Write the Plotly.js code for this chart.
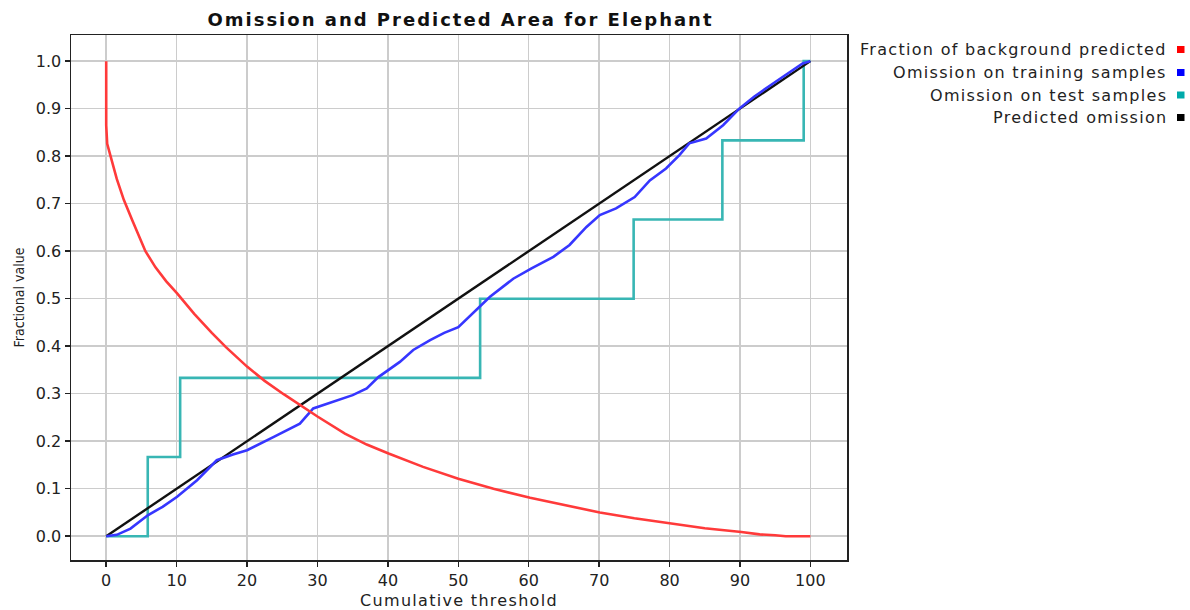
<!DOCTYPE html>
<html>
<head>
<meta charset="utf-8">
<script src="https://cdn.plot.ly/plotly-3.0.1.min.js"></script>
<style>
html,body{margin:0;padding:0;background:#fff;}
#chart{width:1190px;height:610px;}
text.annotation-text{letter-spacing:1.3px;}
text.gtitle{letter-spacing:2px;}
text.xtitle{letter-spacing:1.3px;}
</style>
</head>
<body>
<div id="chart"></div>
<script>
// ---- Data ----
const chartTitle = "Omission and Predicted Area for Elephant";
const xTitle = "Cumulative threshold";
const yTitle = "Fractional value";

const seriesNames = [
  "Fraction of background predicted",
  "Omission on training samples",
  "Omission on test samples",
  "Predicted omission"
];
const seriesColors = ["#ff0000", "#0000ff", "#00aaaa", "#000000"];
const lineColors = ["#ff3a3a", "#3636ff", "#38b6b4", "#111111"];

// Fraction of background predicted
const bgX = [0, 0, 0.14, 0.5, 1.0, 1.5, 2.0, 2.5, 3.7, 5.57, 7.0, 8.5, 10.07, 12.5, 15, 17, 20, 22.5, 25.2, 27.5, 30, 33.9, 37, 40.1, 45, 50, 55, 60.2, 65, 70.1, 75, 80, 85, 90.2, 92.8, 95, 96.5, 100];
const bgY = [1.0, 0.865, 0.826, 0.806, 0.778, 0.752, 0.73, 0.708, 0.665, 0.6, 0.566, 0.537, 0.511, 0.468, 0.428, 0.398, 0.357, 0.327, 0.299, 0.276, 0.252, 0.216, 0.193, 0.174, 0.146, 0.121, 0.100, 0.081, 0.066, 0.050, 0.038, 0.027, 0.017, 0.009, 0.004, 0.002, 0.0, 0.0];

// Omission on training samples
const trainX = [0, 1.5, 3.45, 5.9, 8, 10.07, 12.9, 15.7, 18, 20, 23.8, 27.5, 29.4, 32.3, 35, 37, 38.65, 41.7, 43.6, 46, 48, 50, 52.6, 54.5, 57.8, 60.4, 63.5, 65.8, 68.2, 70.1, 72.4, 75.05, 77.2, 79.5, 81.4, 82.8, 85.2, 87.6, 89.9, 92, 94.7, 97, 98.9, 100];
const trainY = [0, 0.003, 0.016, 0.044, 0.062, 0.083, 0.118, 0.16, 0.172, 0.181, 0.209, 0.237, 0.269, 0.283, 0.297, 0.311, 0.335, 0.367, 0.392, 0.413, 0.428, 0.44, 0.476, 0.504, 0.542, 0.564, 0.588, 0.613, 0.651, 0.676, 0.69, 0.714, 0.749, 0.774, 0.802, 0.827, 0.837, 0.865, 0.9, 0.925, 0.953, 0.975, 0.995, 1.0];

// Omission on test samples (step function)
const testX = [0, 5.9, 10.5, 53.1, 74.9, 87.5, 99.05, 100];
const testY = [0, 0.1667, 0.3333, 0.5, 0.6667, 0.8333, 1.0, 1.0];

// Predicted omission
const predX = [0, 100];
const predY = [0, 1];

const xTicks = [0, 10, 20, 30, 40, 50, 60, 70, 80, 90, 100];
const yTicks = [0.0, 0.1, 0.2, 0.3, 0.4, 0.5, 0.6, 0.7, 0.8, 0.9, 1.0];
const xRange = [-5, 105.2];
const yRange = [-0.05, 1.055];

// ---- Layout geometry (pixels) ----
const W = 1190, H = 610;
const plotL = 71, plotR = 847, plotT = 35, plotB = 560;
const fontMain = "DejaVu Sans, Verdana, sans-serif";

function px2paperX(px){ return (px - plotL) / (plotR - plotL); }
function px2paperY(py){ return (plotB - py) / (plotB - plotT); }

const traces = [
  {x: testX, y: testY, mode: "lines", line: {color: lineColors[2], width: 2.6, shape: "hv"}, name: seriesNames[2], showlegend: false, hoverinfo: "skip"},
  {x: predX, y: predY, mode: "lines", line: {color: lineColors[3], width: 2.4}, name: seriesNames[3], showlegend: false, hoverinfo: "skip"},
  {x: trainX, y: trainY, mode: "lines", line: {color: lineColors[1], width: 2.6}, name: seriesNames[1], showlegend: false, hoverinfo: "skip"},
  {x: bgX, y: bgY, mode: "lines", line: {color: lineColors[0], width: 2.6}, name: seriesNames[0], showlegend: false, hoverinfo: "skip"}
];

// Custom legend: right-aligned text with square swatch on the right
const legendRowsY = [49.5, 72.5, 95, 117.5];
const annotations = [];
const shapes = [];
seriesNames.forEach(function(n, i){
  annotations.push({
    xref: "paper", yref: "paper",
    x: px2paperX(1169), y: px2paperY(legendRowsY[i]),
    xanchor: "right", yanchor: "middle",
    text: n, showarrow: false,
    font: {family: fontMain, size: 16, color: "#222"}
  });
  shapes.push({
    type: "rect", xref: "paper", yref: "paper",
    x0: px2paperX(1177), x1: px2paperX(1184.5),
    y0: px2paperY(legendRowsY[i] + 3.5), y1: px2paperY(legendRowsY[i] - 3.5),
    fillcolor: seriesColors[i], line: {width: 0}
  });
});

const axisCommon = {
  showgrid: true, gridcolor: "#cccccc", gridwidth: 1.5,
  zeroline: false,
  showline: true, linecolor: "#222", linewidth: 1.5, mirror: true,
  ticks: "outside", ticklen: 5, tickwidth: 1.5, tickcolor: "#222",
  tickfont: {family: fontMain, size: 16, color: "#222"}
};

const layout = {
  width: W, height: H,
  paper_bgcolor: "#ffffff", plot_bgcolor: "#ffffff",
  margin: {l: plotL, r: W - plotR, t: plotT, b: H - plotB, pad: 0},
  showlegend: false,
  title: {
    text: "<b>" + chartTitle + "</b>",
    font: {family: fontMain, size: 18, color: "#111"},
    x: px2paperX(460.5), xref: "paper", xanchor: "center",
    y: 1 - 19.5 / H, yref: "container", yanchor: "middle"
  },
  xaxis: Object.assign({}, axisCommon, {
    range: xRange, tickmode: "array", tickvals: xTicks,
    ticktext: xTicks.map(String),
    title: {text: xTitle, font: {family: fontMain, size: 16, color: "#222"}, standoff: 8}
  }),
  yaxis: Object.assign({}, axisCommon, {
    range: yRange, tickmode: "array", tickvals: yTicks,
    ticktext: yTicks.map(function(v){ return v.toFixed(1); }),
    title: {text: yTitle, font: {family: "DejaVu Sans Condensed, Liberation Sans Narrow, sans-serif", size: 14, color: "#222"}, standoff: 8}
  }),
  xaxis2: {
    overlaying: "x", side: "top", anchor: "y", range: xRange,
    tickmode: "array", tickvals: xTicks, showticklabels: false,
    ticks: "inside", ticklen: 5, tickwidth: 1.5, tickcolor: "#222",
    showgrid: false, zeroline: false, showline: false
  },
  yaxis2: {
    overlaying: "y", side: "right", anchor: "x", range: yRange,
    tickmode: "array", tickvals: yTicks, showticklabels: false,
    ticks: "inside", ticklen: 5, tickwidth: 1.5, tickcolor: "#222",
    showgrid: false, zeroline: false, showline: false
  },
  annotations: annotations,
  shapes: shapes
};

Plotly.newPlot("chart", traces, layout, {staticPlot: true, displayModeBar: false});
</script>
</body>
</html>
